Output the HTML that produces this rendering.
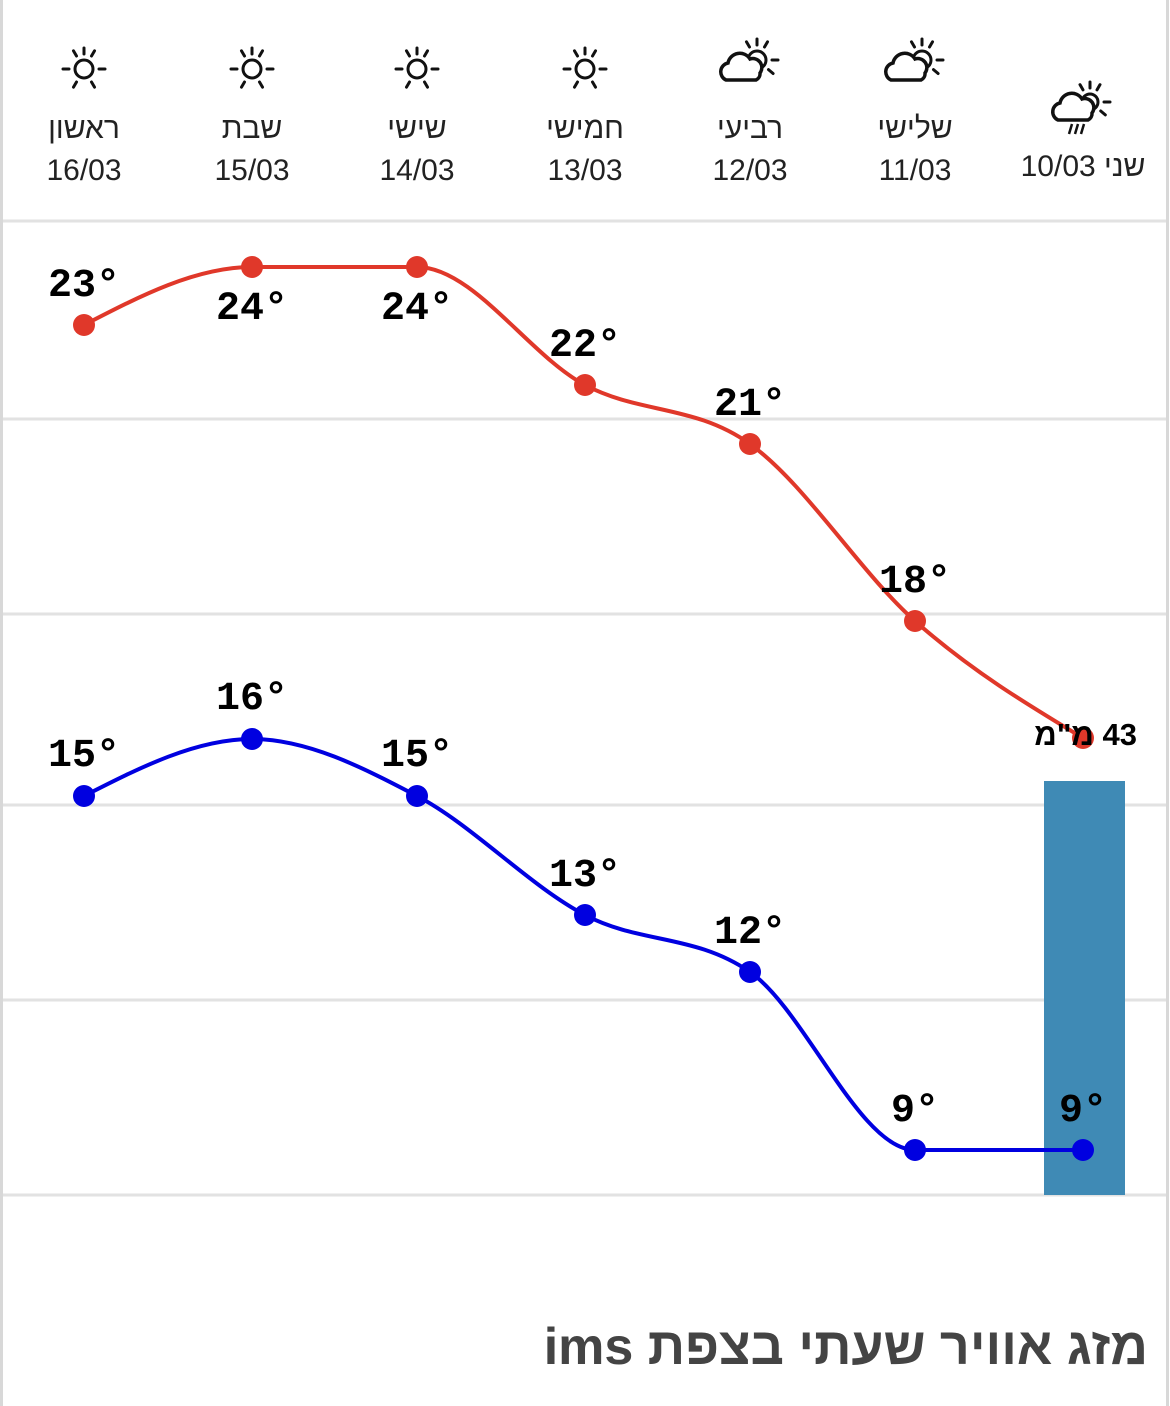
<!DOCTYPE html>
<html><head><meta charset="utf-8"><style>
html,body{margin:0;padding:0;background:#fff;}
body{width:1170px;height:1406px;position:relative;overflow:hidden;font-family:"Liberation Sans","Noto Sans CJK SC",sans-serif;}
.vl{position:absolute;top:0;bottom:0;width:3px;background:#d8d8d8;}
.col{position:absolute;top:46px;width:160px;text-align:center;color:#222;}
.col .ic{height:62px;font-size:0}
.col .d{font-size:30px;line-height:42px;}
.title{position:absolute;right:22px;top:1317px;font-size:52px;font-weight:bold;color:#444;direction:rtl;}
.rain{position:absolute;left:1000px;top:717px;width:137px;text-align:right;font-size:31px;font-weight:bold;direction:rtl;}
</style></head><body>
<div class="vl" style="left:0"></div><div class="vl" style="left:1166px"></div>
<svg width="1170" height="1406" style="position:absolute;left:0;top:0" id="s">
<g stroke="#e2e2e2" stroke-width="3">
<line x1="3" x2="1166" y1="221" y2="221"/><line x1="3" x2="1166" y1="419" y2="419"/>
<line x1="3" x2="1166" y1="614" y2="614"/><line x1="3" x2="1166" y1="805" y2="805"/>
<line x1="3" x2="1166" y1="1000" y2="1000"/><line x1="3" x2="1166" y1="1195" y2="1195"/>
</g>
<rect x="1044" y="781" width="81" height="414" fill="#3f8ab5"/>
<g id="icons" fill="none" stroke="#111" stroke-width="3" stroke-linecap="round"></g>
</svg>
<div class="title">מזג אוויר שעתי בצפת ims</div>
<script>
var xs=[84,252,417,585,750,915,1083];
var hi=[325,267,267,385,444,621,738],lo=[796,739,796,915,972,1150,1150];
var hv=[23,24,24,22,21,18,null],lv=[15,16,15,13,12,9,9];
var hl=[296,319,319,356,415,592,null],ll=[766,709,766,886,943,1121,1121];
var days=["ראשון","שבת","שישי","חמישי","רביעי","שלישי",""],dates=["16/03","15/03","14/03","13/03","12/03","11/03","שני 10/03"];
var s=document.getElementById('s'),NS="http://www.w3.org/2000/svg";
function mono(x,y){var n=x.length,d=[],m=[];for(var i=0;i<n-1;i++)d.push((y[i+1]-y[i])/(x[i+1]-x[i]));
m[0]=d[0];m[n-1]=d[n-2];for(i=1;i<n-1;i++){if(d[i-1]*d[i]<=0)m[i]=0;else{var h0=x[i]-x[i-1],h1=x[i+1]-x[i];var p=(d[i-1]*h1+d[i]*h0)/(h0+h1);m[i]=(Math.sign(d[i-1])+Math.sign(d[i]))*Math.min(Math.abs(d[i-1]),Math.abs(d[i]),0.5*Math.abs(p));}}
m[0]=(3*d[0]-m[1])/2;m[n-1]=(3*d[n-2]-m[n-2])/2;
var p="M"+x[0]+","+y[0];for(i=0;i<n-1;i++){var h=(x[i+1]-x[i])/3;p+=" C"+(x[i]+h)+","+(y[i]+m[i]*h)+" "+(x[i+1]-h)+","+(y[i+1]-m[i+1]*h)+" "+x[i+1]+","+y[i+1];}return p;}
function el(t,a,txt){var e=document.createElementNS(NS,t);for(var k in a)e.setAttribute(k,a[k]);if(txt)e.textContent=txt;s.appendChild(e);return e;}
[[hi,"#e0382a",hv,hl],[lo,"#0000e0",lv,ll]].forEach(function(S){
el('path',{d:mono(xs,S[0]),fill:'none',stroke:S[1],'stroke-width':4});
for(var i=0;i<7;i++){el('circle',{cx:xs[i],cy:S[0][i],r:11,fill:S[1]});
if(S[2][i]!=null)el('text',{x:xs[i],y:S[3][i],'text-anchor':'middle','font-size':40,'font-weight':'bold','font-family':'Liberation Mono, monospace'},S[2][i]+"°");}});
var g=document.getElementById('icons');
function sun(cx,cy,r,rays){var c=document.createElementNS(NS,'circle');c.setAttribute('cx',cx);c.setAttribute('cy',cy);c.setAttribute('r',r);g.appendChild(c);
rays.forEach(function(a){var t=a*Math.PI/180,l=document.createElementNS(NS,'line');l.setAttribute('x1',cx+Math.cos(t)*(r+6));l.setAttribute('y1',cy+Math.sin(t)*(r+6));l.setAttribute('x2',cx+Math.cos(t)*(r+12));l.setAttribute('y2',cy+Math.sin(t)*(r+12));g.appendChild(l);});}
function cloud(x,y){var p=document.createElementNS(NS,'path');p.setAttribute('d',"M"+(x-20)+","+(y+14)+" a9,9 0 0 1 2,-17 a12,12 0 0 1 22,-4 a9,9 0 0 1 10,14 a7,7 0 0 1 -4,7 Z");p.setAttribute('fill','#fff');p.setAttribute('stroke-width','3.5');g.appendChild(p);}
for(var i=0;i<4;i++)sun(xs[i],69,9,[0,60,120,180,240,300,270]);
[750,915].forEach(function(x){sun(x+7,60,9,[-90,-60,0,40,-120]);cloud(x-4,66);});
sun(1090,102,8,[-90,-60,0,40,-120]);cloud(1078,106);
[[1072,124],[1078,124],[1084,124]].forEach(function(q){el('line',{x1:q[0],y1:q[1],x2:q[0]-3,y2:q[1]+10,stroke:'#111','stroke-width':2.5});});
for(i=0;i<7;i++){var d=document.createElement('div');d.className='col';d.style.left=(xs[i]-80)+'px';
if(i==6){d.style.left='1003px';d.style.top='146px';d.innerHTML='<div class="d" style="direction:rtl">שני 10/03</div>';}
else d.innerHTML='<div class="ic"></div><div class="d" style="direction:rtl">'+days[i]+'</div><div class="d">'+dates[i]+'</div>';
document.body.appendChild(d);}
var r=document.createElement('div');r.className='rain';r.textContent='43 מ"מ';document.body.appendChild(r);
</script>
</body></html>
